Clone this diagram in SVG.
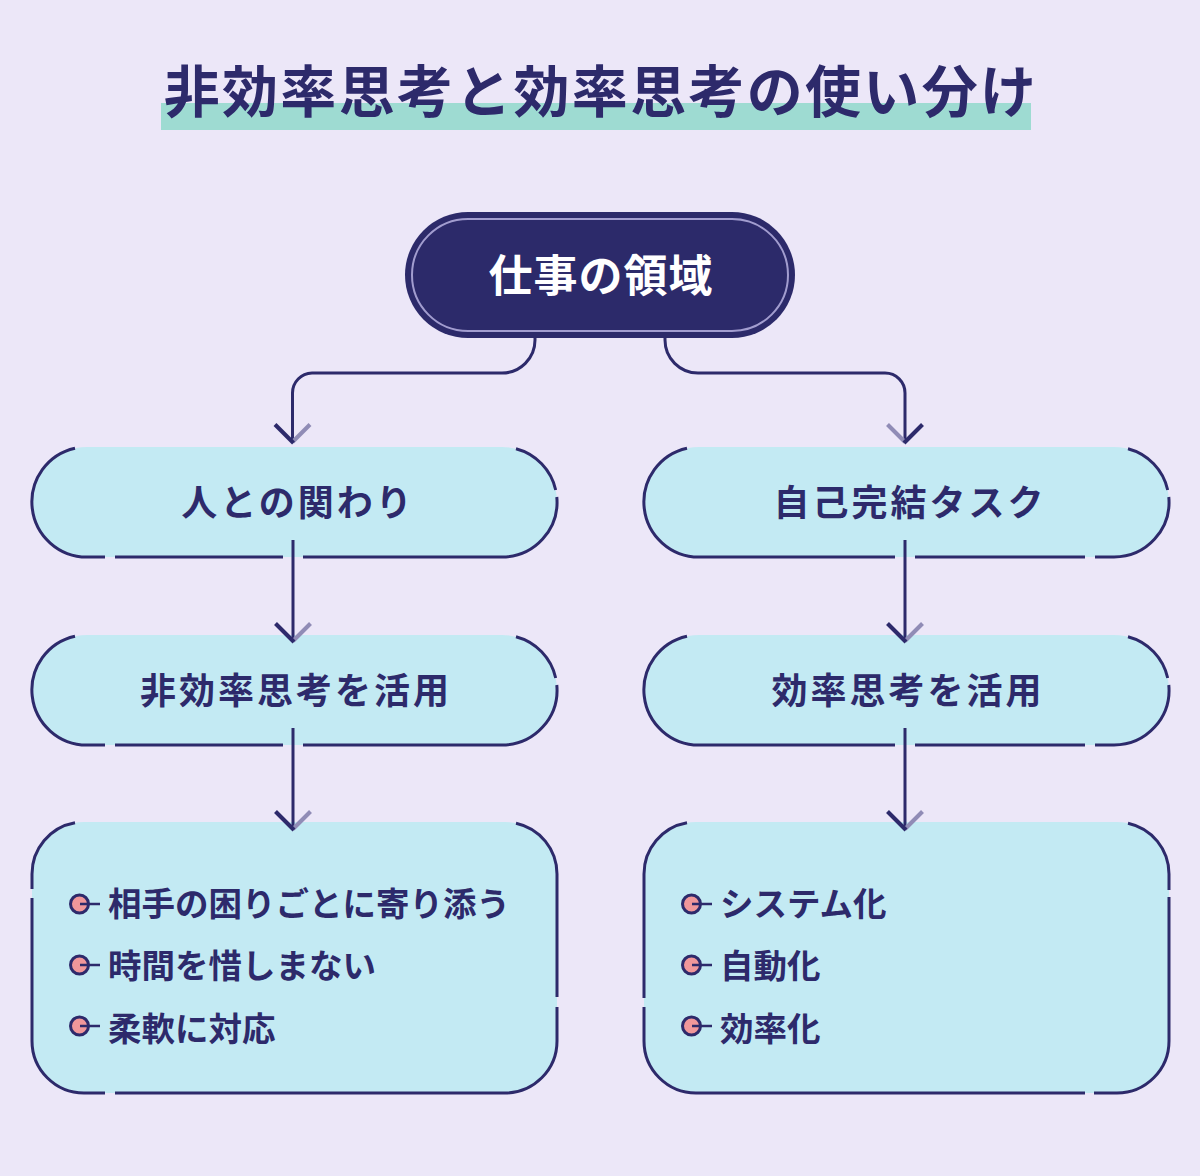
<svg xmlns="http://www.w3.org/2000/svg" width="1200" height="1176" viewBox="0 0 1200 1176">
  <style>
    .t { font-family: "Noto Sans", "Noto Sans CJK JP", sans-serif; font-weight: 700; fill: #2D2A6B; }
    .title { font-size: 56px; letter-spacing: 2.3px; }
    .head { font-size: 44px; letter-spacing: 1px; fill: #FFFFFF; }
    .lbl { font-size: 36px; letter-spacing: 3px; }
    .item { font-size: 33.5px; letter-spacing: 0px; }
    .fill { fill: #C3EAF3; }
    .edge { fill: none; stroke: #2D2A6B; stroke-width: 3; }
    .conn { fill: none; stroke: #2D2A6B; stroke-width: 3; }
    .dot { fill: #F0979A; stroke: #2D2A6B; stroke-width: 3; }
    .tick { stroke: #2D2A6B; stroke-width: 2.5; }
  </style>
  <defs>
    <marker id="ahA" markerUnits="userSpaceOnUse" markerWidth="44" markerHeight="44" viewBox="-22 -22 44 44" refX="0" refY="0" orient="auto" overflow="visible">
      <path d="M0,0 L-17.5,-17.5" stroke="#908CB6" stroke-width="4" fill="none"/>
      <path d="M-17.5,17.5 L1,-1" stroke="#2D2A6B" stroke-width="4" fill="none"/>
    </marker>
    <marker id="ahB" markerUnits="userSpaceOnUse" markerWidth="44" markerHeight="44" viewBox="-22 -22 44 44" refX="0" refY="0" orient="auto" overflow="visible">
      <path d="M0,0 L-17.5,17.5" stroke="#908CB6" stroke-width="4" fill="none"/>
      <path d="M-17.5,-17.5 L1,1" stroke="#2D2A6B" stroke-width="4" fill="none"/>
    </marker>
  </defs>

  <rect x="0" y="0" width="1200" height="1176" fill="#ECE7F8"/>

  <g id="title">
    <rect x="161" y="103" width="870" height="27" fill="#9EDBD2"/>
    <text class="t title" x="601" y="112" text-anchor="middle">非効率思考と効率思考の使い分け</text>
  </g>

  <g id="node-root">
    <rect x="405" y="212" width="390" height="126" rx="63" fill="#2C2A6A"/>
    <rect x="412" y="219" width="376" height="112" rx="56" fill="none" stroke="#A29DCF" stroke-width="2"/>
    <text class="t head" x="601" y="292" text-anchor="middle">仕事の領域</text>
  </g>

  <g id="node-people">
    <rect class="fill" x="32" y="447" width="525" height="110" rx="55"/>
    <path class="edge" d="M75,448.3 A55,55 0 0 0 87,557 H105 M115,557 H283 M303,557 H502 A55,55 0 0 0 556.8,497 M555.7,490 A55,55 0 0 0 516,448.8"/>
    <text class="t lbl" x="298" y="516" text-anchor="middle">人との関わり</text>
  </g>

  <g id="node-self">
    <rect class="fill" x="644" y="447" width="525" height="110" rx="55"/>
    <path class="edge" d="M687,448.3 A55,55 0 0 0 699,557 H895 M915,557 H1085 M1095,557 H1114 A55,55 0 0 0 1168.8,497 M1167.7,490 A55,55 0 0 0 1128,448.8"/>
    <text class="t lbl" x="910" y="516" text-anchor="middle">自己完結タスク</text>
  </g>

  <g id="node-ineff">
    <rect class="fill" x="32" y="635" width="525" height="110" rx="55"/>
    <path class="edge" d="M75,636.3 A55,55 0 0 0 87,745 H105 M115,745 H283 M303,745 H502 A55,55 0 0 0 556.8,685 M555.7,678 A55,55 0 0 0 516,636.8"/>
    <text class="t lbl" x="296" y="704" text-anchor="middle">非効率思考を活用</text>
  </g>

  <g id="node-eff">
    <rect class="fill" x="644" y="635" width="525" height="110" rx="55"/>
    <path class="edge" d="M687,636.3 A55,55 0 0 0 699,745 H895 M915,745 H1085 M1095,745 H1114 A55,55 0 0 0 1168.8,685 M1167.7,678 A55,55 0 0 0 1128,636.8"/>
    <text class="t lbl" x="908" y="704" text-anchor="middle">効率思考を活用</text>
  </g>

  <g id="node-ineff-list">
    <rect class="fill" x="32" y="822" width="525" height="271" rx="52"/>
    <path class="edge" d="M75,822.8 A52,52 0 0 0 32,874 V889 M32,898 V1041 A52,52 0 0 0 84,1093 H105 M115,1093 H505 A52,52 0 0 0 557,1041 V1007 M557,997 V874 A52,52 0 0 0 516,823.2"/>
    <circle class="dot" cx="79.5" cy="904" r="9"/>
    <line class="tick" x1="80" y1="904" x2="100" y2="904"/>
    <text class="t item" x="108" y="916">相手の困りごとに寄り添う</text>
    <circle class="dot" cx="79.5" cy="965" r="9"/>
    <line class="tick" x1="80" y1="965" x2="100" y2="965"/>
    <text class="t item" x="108" y="978">時間を惜しまない</text>
    <circle class="dot" cx="79.5" cy="1026" r="9"/>
    <line class="tick" x1="80" y1="1026" x2="100" y2="1026"/>
    <text class="t item" x="108" y="1041">柔軟に対応</text>
  </g>

  <g id="node-eff-list">
    <rect class="fill" x="644" y="822" width="525" height="271" rx="52"/>
    <path class="edge" d="M687,822.8 A52,52 0 0 0 644,874 V998 M644,1007 V1041 A52,52 0 0 0 696,1093 H1085 M1094,1093 H1117 A52,52 0 0 0 1169,1041 V897 M1169,890 V874 A52,52 0 0 0 1128,823.2"/>
    <circle class="dot" cx="691.5" cy="904" r="9"/>
    <line class="tick" x1="692" y1="904" x2="712" y2="904"/>
    <text class="t item" x="720" y="916">システム化</text>
    <circle class="dot" cx="691.5" cy="965" r="9"/>
    <line class="tick" x1="692" y1="965" x2="712" y2="965"/>
    <text class="t item" x="720" y="978">自動化</text>
    <circle class="dot" cx="691.5" cy="1026" r="9"/>
    <line class="tick" x1="692" y1="1026" x2="712" y2="1026"/>
    <text class="t item" x="720" y="1041">効率化</text>
  </g>

  <g id="connectors">
    <path class="conn" d="M535,338 V340 A33,33 0 0 1 502,373 H312 A20,20 0 0 0 292.5,393 V442" marker-end="url(#ahA)"/>
    <path class="conn" d="M665,338 V340 A33,33 0 0 0 698,373 H885 A20,20 0 0 1 905,393 V442" marker-end="url(#ahB)"/>
    <path class="conn" d="M293,540 V641" marker-end="url(#ahA)"/>
    <path class="conn" d="M293,728 V829" marker-end="url(#ahA)"/>
    <path class="conn" d="M905,540 V641" marker-end="url(#ahA)"/>
    <path class="conn" d="M905,728 V829" marker-end="url(#ahA)"/>
  </g>
</svg>
